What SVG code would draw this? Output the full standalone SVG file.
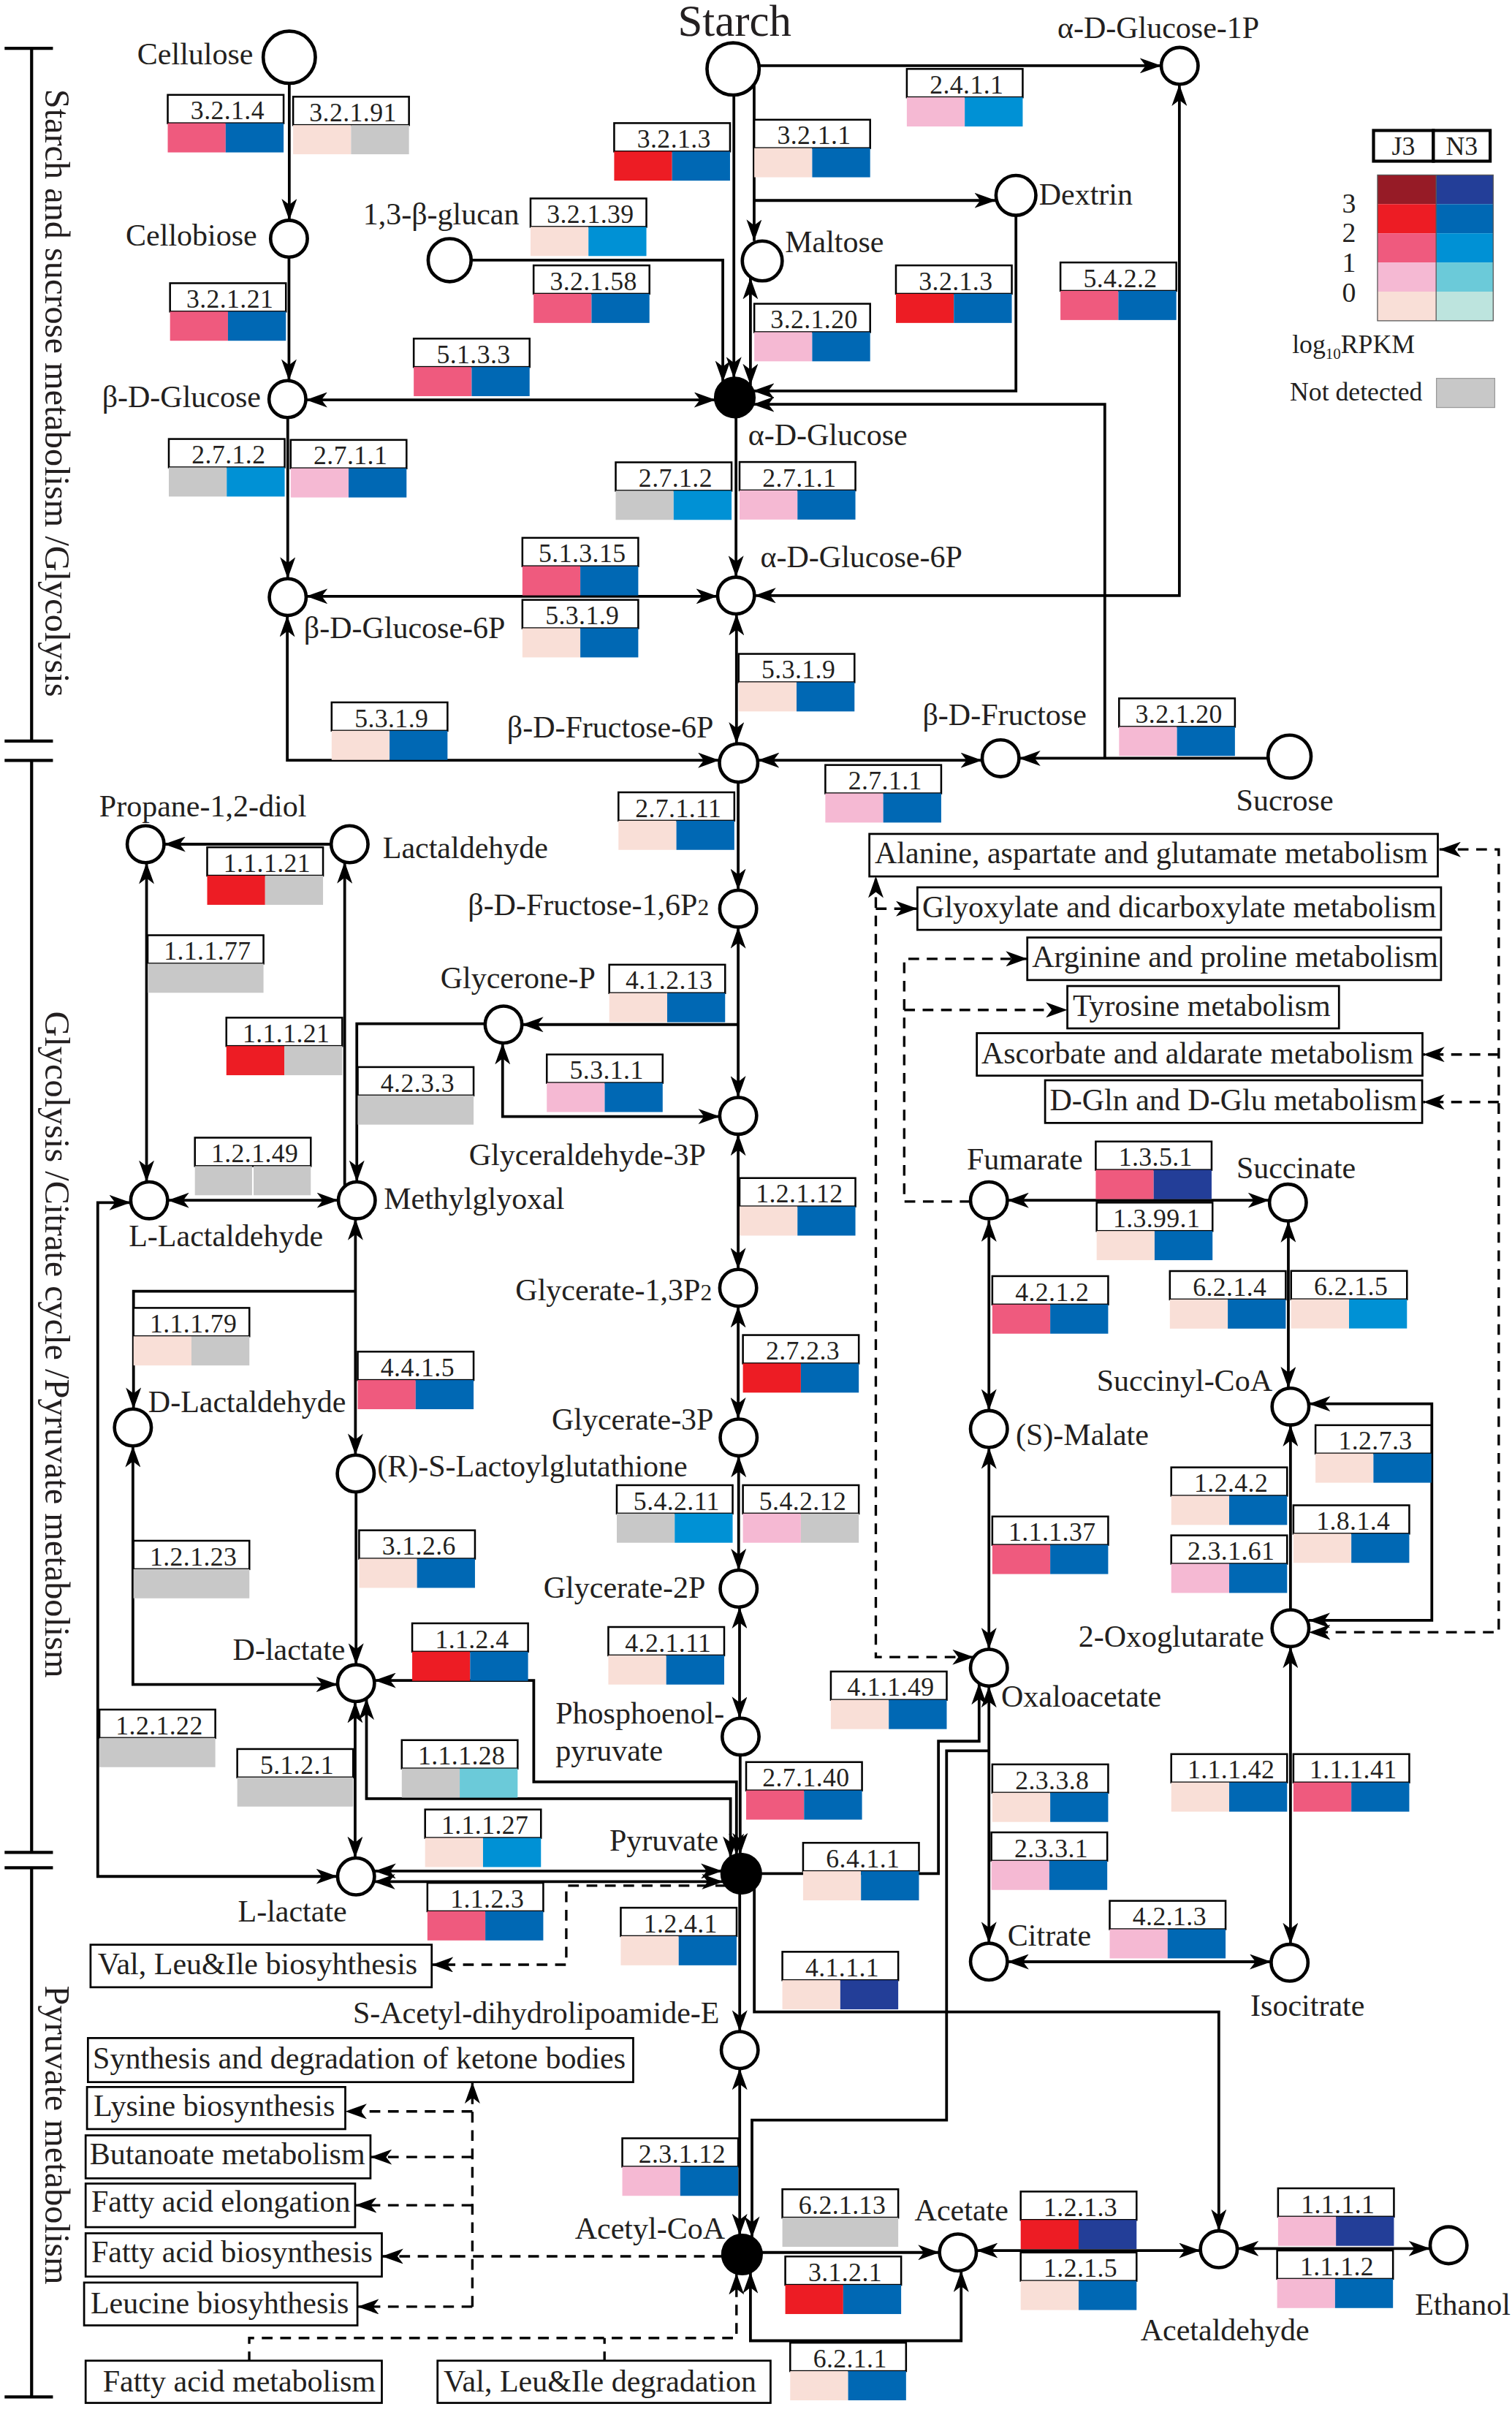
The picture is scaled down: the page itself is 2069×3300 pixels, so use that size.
<svg xmlns="http://www.w3.org/2000/svg" width="2069" height="3300" viewBox="0 0 2069 3300">
<style>
.t{font-family:"Liberation Serif","Times New Roman",serif;font-size:20px;fill:#231f20}
.et{font-family:"Liberation Serif","Times New Roman",serif;font-size:17px;letter-spacing:0.2px;fill:#231f20;text-anchor:middle}
.lg{font-family:"Liberation Serif","Times New Roman",serif;font-size:17px;fill:#231f20}
.n{fill:#fff;stroke:#000;stroke-width:2.2}
.nf{fill:#000;stroke:#000;stroke-width:2.2}
.c{fill:none;stroke:#000;stroke-width:1.8}
.d{fill:none;stroke:#000;stroke-width:1.6;stroke-dasharray:7 5}
.s{marker-start:url(#a)}
.e{marker-end:url(#a)}
.lb{fill:#fff;stroke:#000;stroke-width:1.2}
.pb{fill:#fff;stroke:#000;stroke-width:1.3}
.br{fill:none;stroke:#000;stroke-width:2}
.r0{fill:#f9dfd7}.r1{fill:#f5b9d3}.r2{fill:#ef5a7e}.r3{fill:#ed1c24}.r4{fill:#961b26}
.b0{fill:#bde4de}.b1{fill:#6bcad9}.b2{fill:#0091d5}.b3{fill:#0068b4}.b4{fill:#233e98}
.g{fill:#c8c8c8}
</style>
<defs>
<marker id="a" viewBox="0 0 14 10" refX="14" refY="5" markerWidth="14" markerHeight="10" markerUnits="userSpaceOnUse" orient="auto-start-reverse"><path d="M0,0 L14,5 L0,10 L3.8,5 Z" fill="#000"/></marker>
</defs>
<rect width="2069" height="3300" fill="#fff"/>
<g transform="scale(2.1)">
<g id="brackets">
<path class="br" d="M3,31.5 H34.5 M20.6,31.5 V482.8 M3,482.8 H34.5 M3,495.4 H34.5 M20.6,495.4 V1206.8 M3,1206.8 H34.5 M3,1216.8 H34.5 M20.6,1216.8 V1561.6 M3,1561.6 H34.5"/>
<text class="t" style="font-size:23px" text-anchor="middle" transform="translate(29.7,256) rotate(90)">Starch and sucrose metabolism /Glycolysis</text>
<text class="t" style="font-size:23px" text-anchor="middle" transform="translate(29.7,876) rotate(90)">Glycolysis /Citrate cycle /Pyruvate metabolism</text>
<text class="t" style="font-size:23px" text-anchor="middle" transform="translate(29.7,1391) rotate(90)">Pyruvate metabolism</text>
</g>
<g id="connectors">
<path class="c e" d="M188.5,54.5 V143.5"/>
<path class="c e" d="M188.3,167.5 V248"/>
<path class="c e" d="M187.5,272 V377"/>
<path class="c s e" d="M199.3,260.5 H466.3"/>
<path class="c e" d="M478.2,62 V246.5"/>
<path class="c e" d="M491.4,55 V157"/>
<path class="c e" d="M491.4,130.6 H649"/>
<path class="c e" d="M307,169.5 H471 V249"/>
<path class="c s e" d="M489,181 V251"/>
<path class="c e" d="M662,140.3 V254.7 H490.5"/>
<path class="c e" d="M719.9,494 V263.4 H490.5"/>
<path class="c e" d="M494.7,42.8 H756.7"/>
<path class="c s e" d="M491.6,388 H768.5 V55"/>
<path class="c e" d="M479.6,271.5 V376"/>
<path class="c s e" d="M199.5,388.5 H467.6"/>
<path class="c s e" d="M479.9,400 V484.5"/>
<path class="c s e" d="M187.2,401 V495.3 H468.8"/>
<path class="c s e" d="M493.8,495.3 H640"/>
<path class="c e" d="M826.3,494 H664"/>
<path class="c e" d="M481,509.5 V580"/>
<path class="c s e" d="M481,604 V715"/>
<path class="c e" d="M481,667.5 H340.1"/>
<path class="c s e" d="M327.5,679.5 V727.4 H469"/>
<path class="c s e" d="M481,739 V827"/>
<path class="c s e" d="M481,851 V924.5"/>
<path class="c s e" d="M481.3,948.5 V1023"/>
<path class="c s e" d="M481.9,1047 V1119.4"/>
<path class="c e" d="M482.3,1143.4 V1208.2"/>
<path class="c e" d="M215.8,550 H106.9"/>
<path class="c s e" d="M95.5,562 V770"/>
<path class="c e" d="M224.6,773 V561.6"/>
<path class="c e" d="M316.1,667 H232.5 V770"/>
<path class="c s e" d="M109.2,782 H220.5"/>
<path class="c s e" d="M231.6,794 V948"/>
<path class="c e" d="M231.6,841.2 H87 V918"/>
<path class="c s e" d="M86.6,942 V1097.4 H220"/>
<path class="c e" d="M232,972 V1084.6"/>
<path class="c s e" d="M244,1094.8 H347.8 V1160.9 H479.9 V1208.6"/>
<path class="c s e" d="M238.8,1106.5 V1171.8 H476 V1210.4"/>
<path class="c s e" d="M231.4,1108.6 V1210.5"/>
<path class="c s e" d="M220,1222.5 H63.7 V783.5 H85.2"/>
<path class="c s e" d="M244,1219 H470.7"/>
<path class="c s e" d="M243.5,1225.9 H471.3"/>
<path class="c e" d="M482,1233.2 V1323.6"/>
<path class="c s e" d="M482,1347.6 V1456.3"/>
<path class="c e" d="M491.5,1229.9 V1310.8 H794.2 V1453.4"/>
<path class="c e" d="M495.5,1220.7 H611.5 V1134.4 H638 V1096.6"/>
<path class="c e" d="M644.4,1140.7 H616.8 V1381.3 H490 V1458"/>
<path class="c e" d="M496,1467.5 H612.2"/>
<path class="c s e" d="M626.3,1479.3 V1525 H489 V1480.2"/>
<path class="c s e" d="M636.2,1466.2 H782.2"/>
<path class="c s e" d="M806.2,1464.9 H931.9"/>
<path class="c s e" d="M656.4,782 H827.2"/>
<path class="c s e" d="M644.4,795 V919"/>
<path class="c s e" d="M644.4,943 V1074.5"/>
<path class="c s e" d="M644.4,1098.5 V1266"/>
<path class="c s e" d="M656.4,1278.1 H828.3"/>
<path class="c s e" d="M840.9,1266.7 V1072.8"/>
<path class="c e" d="M840.9,1048.8 V928.4"/>
<path class="c s e" d="M839.5,795.5 V904.4"/>
<path class="c s e" d="M852.9,914.6 H933 V1055.7 H852.7"/>
<path class="d s e" d="M937.9,553.4 H976.6 V1063.4 H852.9"/>
<path class="d e" d="M976.6,687 H927.3"/>
<path class="d e" d="M976.6,718 H927.3"/>
<path class="d s e" d="M634.6,1079.6 H570.7 V571"/>
<path class="d e" d="M570.7,592 H597.8"/>
<path class="d e" d="M632.4,782.8 H589.2 V624.7 H669.4"/>
<path class="d e" d="M589.2,658 H695.5"/>
<path class="d e" d="M473.2,1228.5 H369 V1280 H281.3"/>
<path class="d e" d="M471.2,1470 H248.8"/>
<path class="d e" d="M307.8,1502.8 V1356.5"/>
<path class="d e" d="M307.8,1375.6 H225"/>
<path class="d e" d="M307.8,1405.3 H241.4"/>
<path class="d e" d="M307.8,1436.7 H231.4"/>
<path class="d e" d="M307.8,1502.8 H232.9"/>
<path class="d e" d="M162.4,1539 V1523.2 H479.9 V1481"/>
<path class="d" d="M393.9,1539 V1523.2"/>
</g>
<g id="n-starch"><circle class="n" cx="477.7" cy="44.9" r="17"/><text class="t" style="font-size:29px" x="478.7" y="23.5" text-anchor="middle">Starch</text></g>
<g id="n-cellulose"><circle class="n" cx="188.5" cy="37.3" r="17"/><text class="t" x="165" y="42" text-anchor="end">Cellulose</text></g>
<g id="n-aglc1p"><circle class="n" cx="768.7" cy="42.9" r="12"/><text class="t" x="689" y="25">α-D-Glucose-1P</text></g>
<g id="n-cellobiose"><circle class="n" cx="188.3" cy="155.5" r="12"/><text class="t" x="167.5" y="160" text-anchor="end">Cellobiose</text></g>
<g id="n-glucan"><circle class="n" cx="293" cy="169.5" r="14"/><text class="t" x="236.5" y="146">1,3-β-glucan</text></g>
<g id="n-maltose"><circle class="n" cx="496.7" cy="170" r="13"/><text class="t" x="511.5" y="164.5">Maltose</text></g>
<g id="n-dextrin"><circle class="n" cx="662" cy="127.3" r="13"/><text class="t" x="677" y="133.5">Dextrin</text></g>
<g id="n-aglc"><circle class="nf" cx="478.8" cy="259" r="12.5"/><text class="t" x="487.5" y="290">α-D-Glucose</text></g>
<g id="n-bglc"><circle class="n" cx="187.3" cy="260" r="12"/><text class="t" x="170" y="265" text-anchor="end">β-D-Glucose</text></g>
<g id="n-aglc6p"><circle class="n" cx="479.6" cy="388" r="12"/><text class="t" x="495.5" y="369.5">α-D-Glucose-6P</text></g>
<g id="n-bglc6p"><circle class="n" cx="187.5" cy="389" r="12"/><text class="t" x="198" y="415.5">β-D-Glucose-6P</text></g>
<g id="n-bfru6p"><circle class="n" cx="481.3" cy="497" r="12.5"/><text class="t" x="465" y="480.5" text-anchor="end">β-D-Fructose-6P</text></g>
<g id="n-bfru"><circle class="n" cx="652" cy="494" r="12"/><text class="t" x="708" y="472.5" text-anchor="end">β-D-Fructose</text></g>
<g id="n-sucrose"><circle class="n" cx="840.3" cy="492.9" r="14"/><text class="t" x="805.5" y="528">Sucrose</text></g>
<g id="n-propanediol"><circle class="n" cx="94.9" cy="550" r="12"/><text class="t" x="64.7" y="532">Propane-1,2-diol</text></g>
<g id="n-lactaldehyde"><circle class="n" cx="227.8" cy="550" r="12"/><text class="t" x="249.4" y="559">Lactaldehyde</text></g>
<g id="n-fbp"><circle class="n" cx="481" cy="592" r="12"/><text class="t" x="462" y="596" text-anchor="end">β-D-Fructose-1,6P<tspan style="font-size:15px">2</tspan></text></g>
<g id="n-glyceroneP"><circle class="n" cx="328.1" cy="667.5" r="12"/><text class="t" x="287" y="644">Glycerone-P</text></g>
<g id="n-g3p"><circle class="n" cx="481" cy="727" r="12"/><text class="t" x="460" y="759" text-anchor="end">Glyceraldehyde-3P</text></g>
<g id="n-llactald"><circle class="n" cx="97.2" cy="782" r="12"/><text class="t" x="83.9" y="811.8">L-Lactaldehyde</text></g>
<g id="n-methylglyoxal"><circle class="n" cx="232.5" cy="782" r="12"/><text class="t" x="250.1" y="787.8">Methylglyoxal</text></g>
<g id="n-g13p2"><circle class="n" cx="481" cy="839" r="12"/><text class="t" x="463.9" y="847" text-anchor="end">Glycerate-1,3P<tspan style="font-size:15px">2</tspan></text></g>
<g id="n-dlactald"><circle class="n" cx="86.6" cy="930" r="12"/><text class="t" x="96.6" y="920">D-Lactaldehyde</text></g>
<g id="n-lactoylglut"><circle class="n" cx="231.8" cy="960" r="12"/><text class="t" x="245.8" y="962">(R)-S-Lactoylglutathione</text></g>
<g id="n-g3pa"><circle class="n" cx="481.3" cy="936.5" r="12"/><text class="t" x="465" y="931.5" text-anchor="end">Glycerate-3P</text></g>
<g id="n-g2p"><circle class="n" cx="481.3" cy="1035" r="12"/><text class="t" x="459.7" y="1041" text-anchor="end">Glycerate-2P</text></g>
<g id="n-dlactate"><circle class="n" cx="232" cy="1096.6" r="12"/><text class="t" x="225" y="1081.4" text-anchor="end">D-lactate</text></g>
<g id="n-pep"><circle class="n" cx="482.6" cy="1131.4" r="12"/><text class="t" x="362" y="1123">Phosphoenol-</text><text class="t" x="362" y="1147">pyruvate</text></g>
<g id="n-pyruvate"><circle class="nf" cx="483" cy="1220.7" r="12.5"/><text class="t" x="468.2" y="1205.8" text-anchor="end">Pyruvate</text></g>
<g id="n-llactate"><circle class="n" cx="232" cy="1222.5" r="12"/><text class="t" x="155" y="1252">L-lactate</text></g>
<g id="n-sacetyl"><circle class="n" cx="482" cy="1335.6" r="12"/><text class="t" x="468.8" y="1318" text-anchor="end">S-Acetyl-dihydrolipoamide-E</text></g>
<g id="n-acetylcoa"><circle class="nf" cx="483.5" cy="1468.8" r="12.5"/><text class="t" x="472.4" y="1458.4" text-anchor="end">Acetyl-CoA</text></g>
<g id="n-acetate"><circle class="n" cx="624.2" cy="1467.5" r="12"/><text class="t" x="596" y="1446.6">Acetate</text></g>
<g id="n-acetaldehyde"><circle class="n" cx="794.2" cy="1465.4" r="12"/><text class="t" x="743.2" y="1525">Acetaldehyde</text></g>
<g id="n-ethanol"><circle class="n" cx="943.9" cy="1462.8" r="12"/><text class="t" x="922" y="1508">Ethanol</text></g>
<g id="n-fumarate"><circle class="n" cx="644.4" cy="782" r="12"/><text class="t" x="705.5" y="762" text-anchor="end">Fumarate</text></g>
<g id="n-succinate"><circle class="n" cx="839.2" cy="783.5" r="12"/><text class="t" x="805.7" y="767.6">Succinate</text></g>
<g id="n-succinylcoa"><circle class="n" cx="840.9" cy="916.4" r="12"/><text class="t" x="714.6" y="906">Succinyl-CoA</text></g>
<g id="n-malate"><circle class="n" cx="644.4" cy="931" r="12"/><text class="t" x="661.9" y="941.5">(S)-Malate</text></g>
<g id="n-oxoglutarate"><circle class="n" cx="840.9" cy="1060.8" r="12"/><text class="t" x="702.7" y="1072.7">2-Oxoglutarate</text></g>
<g id="n-oxaloacetate"><circle class="n" cx="644.4" cy="1086.5" r="12"/><text class="t" x="652.4" y="1111.8">Oxaloacetate</text></g>
<g id="n-citrate"><circle class="n" cx="644.4" cy="1278" r="12"/><text class="t" x="656.6" y="1267.7">Citrate</text></g>
<g id="n-isocitrate"><circle class="n" cx="840.3" cy="1278.7" r="12"/><text class="t" x="814.8" y="1313.4">Isocitrate</text></g>
<g id="p-ala"><rect class="pb" x="566.5" y="543.3" width="370.4" height="27.7"/><text class="t" x="570" y="562.2">Alanine, aspartate and glutamate metabolism</text></g>
<g id="p-glyox"><rect class="pb" x="597.8" y="578.1" width="341.2" height="27.7"/><text class="t" x="601" y="597.5">Glyoxylate and dicarboxylate metabolism</text></g>
<g id="p-arg"><rect class="pb" x="669.4" y="610.8" width="269.6" height="27.7"/><text class="t" x="672.5" y="630.2">Arginine and proline metabolism</text></g>
<g id="p-tyr"><rect class="pb" x="695.5" y="642.4" width="177" height="27.6"/><text class="t" x="699" y="661.8">Tyrosine metabolism</text></g>
<g id="p-asc"><rect class="pb" x="636.5" y="673.1" width="290.4" height="27.7"/><text class="t" x="639.5" y="692.8">Ascorbate and aldarate metabolism</text></g>
<g id="p-dgln"><rect class="pb" x="681" y="703.8" width="245.7" height="27.8"/><text class="t" x="684" y="723.5">D-Gln and D-Glu metabolism</text></g>
<g id="p-valbio"><rect class="pb" x="59" y="1267" width="222.3" height="27.7"/><text class="t" x="63.7" y="1286.3">Val, Leu&amp;Ile biosyhthesis</text></g>
<g id="p-ketone"><rect class="pb" x="57.3" y="1327.8" width="355.3" height="28.7"/><text class="t" x="60.5" y="1347.4">Synthesis and degradation of ketone bodies</text></g>
<g id="p-lys"><rect class="pb" x="56.7" y="1359.7" width="168.3" height="27.4"/><text class="t" x="61" y="1378.7">Lysine biosynthesis</text></g>
<g id="p-but"><rect class="pb" x="55.8" y="1391.2" width="185.6" height="28"/><text class="t" x="58.5" y="1410">Butanoate metabolism</text></g>
<g id="p-faelong"><rect class="pb" x="55.8" y="1422.6" width="175.6" height="28.4"/><text class="t" x="59.5" y="1440.9">Fatty acid elongation</text></g>
<g id="p-fabio"><rect class="pb" x="55.8" y="1455" width="193" height="28.2"/><text class="t" x="59.5" y="1474">Fatty acid biosynthesis</text></g>
<g id="p-leu"><rect class="pb" x="54.8" y="1487.1" width="178.1" height="27.9"/><text class="t" x="59" y="1507.2">Leucine biosyhthesis</text></g>
<g id="p-famet"><rect class="pb" x="55.8" y="1538" width="193" height="27.5"/><text class="t" x="67" y="1558">Fatty acid metabolism</text></g>
<g id="p-valdeg"><rect class="pb" x="285.1" y="1538" width="217" height="27.5"/><text class="t" x="289" y="1558">Val, Leu&amp;Ile degradation</text></g>
<g id="enzymes">
<g transform="translate(109.3,61.8)"><rect class="lb" width="75.5" height="18.5"/><rect class="r2" y="18.5" width="37.75" height="19"/><rect class="b3" x="37.75" y="18.5" width="37.75" height="19"/><text class="et" x="39" y="16">3.2.1.4</text></g>
<g transform="translate(191,63)"><rect class="lb" width="75.5" height="18.5"/><rect class="r0" y="18.5" width="37.75" height="19"/><rect class="g" x="37.75" y="18.5" width="37.75" height="19"/><text class="et" x="39" y="16">3.2.1.91</text></g>
<g transform="translate(110.8,184.5)"><rect class="lb" width="75.5" height="18.5"/><rect class="r2" y="18.5" width="37.75" height="19"/><rect class="b3" x="37.75" y="18.5" width="37.75" height="19"/><text class="et" x="39" y="16">3.2.1.21</text></g>
<g transform="translate(269.6,220.6)"><rect class="lb" width="75.5" height="18.5"/><rect class="r2" y="18.5" width="37.75" height="19"/><rect class="b3" x="37.75" y="18.5" width="37.75" height="19"/><text class="et" x="39" y="16">5.1.3.3</text></g>
<g transform="translate(110,286)"><rect class="lb" width="75.5" height="18.5"/><rect class="g" y="18.5" width="37.75" height="19"/><rect class="b2" x="37.75" y="18.5" width="37.75" height="19"/><text class="et" x="39" y="16">2.7.1.2</text></g>
<g transform="translate(189.4,286.6)"><rect class="lb" width="75.5" height="18.5"/><rect class="r1" y="18.5" width="37.75" height="19"/><rect class="b3" x="37.75" y="18.5" width="37.75" height="19"/><text class="et" x="39" y="16">2.7.1.1</text></g>
<g transform="translate(590.9,44.9)"><rect class="lb" width="75.5" height="18.5"/><rect class="r1" y="18.5" width="37.75" height="19"/><rect class="b2" x="37.75" y="18.5" width="37.75" height="19"/><text class="et" x="39" y="16">2.4.1.1</text></g>
<g transform="translate(400.2,80.2)"><rect class="lb" width="75.5" height="18.5"/><rect class="r3" y="18.5" width="37.75" height="19"/><rect class="b3" x="37.75" y="18.5" width="37.75" height="19"/><text class="et" x="39" y="16">3.2.1.3</text></g>
<g transform="translate(491.5,78)"><rect class="lb" width="75.5" height="18.5"/><rect class="r0" y="18.5" width="37.75" height="19"/><rect class="b3" x="37.75" y="18.5" width="37.75" height="19"/><text class="et" x="39" y="16">3.2.1.1</text></g>
<g transform="translate(345.7,129.3)"><rect class="lb" width="75.5" height="18.5"/><rect class="r0" y="18.5" width="37.75" height="19"/><rect class="b2" x="37.75" y="18.5" width="37.75" height="19"/><text class="et" x="39" y="16">3.2.1.39</text></g>
<g transform="translate(347.7,172.9)"><rect class="lb" width="75.5" height="18.5"/><rect class="r2" y="18.5" width="37.75" height="19"/><rect class="b3" x="37.75" y="18.5" width="37.75" height="19"/><text class="et" x="39" y="16">3.2.1.58</text></g>
<g transform="translate(491.5,197.9)"><rect class="lb" width="75.5" height="18.5"/><rect class="r1" y="18.5" width="37.75" height="19"/><rect class="b3" x="37.75" y="18.5" width="37.75" height="19"/><text class="et" x="39" y="16">3.2.1.20</text></g>
<g transform="translate(583.8,172.9)"><rect class="lb" width="75.5" height="18.5"/><rect class="r3" y="18.5" width="37.75" height="19"/><rect class="b3" x="37.75" y="18.5" width="37.75" height="19"/><text class="et" x="39" y="16">3.2.1.3</text></g>
<g transform="translate(691,171)"><rect class="lb" width="75.5" height="18.5"/><rect class="r2" y="18.5" width="37.75" height="19"/><rect class="b3" x="37.75" y="18.5" width="37.75" height="19"/><text class="et" x="39" y="16">5.4.2.2</text></g>
<g transform="translate(401.2,301.2)"><rect class="lb" width="75.5" height="18.5"/><rect class="g" y="18.5" width="37.75" height="19"/><rect class="b2" x="37.75" y="18.5" width="37.75" height="19"/><text class="et" x="39" y="16">2.7.1.2</text></g>
<g transform="translate(481.9,301)"><rect class="lb" width="75.5" height="18.5"/><rect class="r1" y="18.5" width="37.75" height="19"/><rect class="b3" x="37.75" y="18.5" width="37.75" height="19"/><text class="et" x="39" y="16">2.7.1.1</text></g>
<g transform="translate(340.4,350.4)"><rect class="lb" width="75.5" height="18.5"/><rect class="r2" y="18.5" width="37.75" height="19"/><rect class="b3" x="37.75" y="18.5" width="37.75" height="19"/><text class="et" x="39" y="16">5.1.3.15</text></g>
<g transform="translate(340.4,390.8)"><rect class="lb" width="75.5" height="18.5"/><rect class="r0" y="18.5" width="37.75" height="19"/><rect class="b3" x="37.75" y="18.5" width="37.75" height="19"/><text class="et" x="39" y="16">5.3.1.9</text></g>
<g transform="translate(481.3,426)"><rect class="lb" width="75.5" height="18.5"/><rect class="r0" y="18.5" width="37.75" height="19"/><rect class="b3" x="37.75" y="18.5" width="37.75" height="19"/><text class="et" x="39" y="16">5.3.1.9</text></g>
<g transform="translate(216.1,457.6)"><rect class="lb" width="75.5" height="18.5"/><rect class="r0" y="18.5" width="37.75" height="19"/><rect class="b3" x="37.75" y="18.5" width="37.75" height="19"/><text class="et" x="39" y="16">5.3.1.9</text></g>
<g transform="translate(729.2,455)"><rect class="lb" width="75.5" height="18.5"/><rect class="r1" y="18.5" width="37.75" height="19"/><rect class="b3" x="37.75" y="18.5" width="37.75" height="19"/><text class="et" x="39" y="16">3.2.1.20</text></g>
<g transform="translate(537.8,498.4)"><rect class="lb" width="75.5" height="18.5"/><rect class="r1" y="18.5" width="37.75" height="19"/><rect class="b3" x="37.75" y="18.5" width="37.75" height="19"/><text class="et" x="39" y="16">2.7.1.1</text></g>
<g transform="translate(403,516.2)"><rect class="lb" width="75.5" height="18.5"/><rect class="r0" y="18.5" width="37.75" height="19"/><rect class="b3" x="37.75" y="18.5" width="37.75" height="19"/><text class="et" x="39" y="16">2.7.1.11</text></g>
<g transform="translate(135,552)"><rect class="lb" width="75.5" height="18.5"/><rect class="r3" y="18.5" width="37.75" height="19"/><rect class="g" x="37.75" y="18.5" width="37.75" height="19"/><text class="et" x="39" y="16">1.1.1.21</text></g>
<g transform="translate(96.2,609.3)"><rect class="lb" width="75.5" height="18.5"/><rect class="g" y="18.5" width="75.5" height="19"/><text class="et" x="39" y="16">1.1.1.77</text></g>
<g transform="translate(147.5,663)"><rect class="lb" width="75.5" height="18.5"/><rect class="r3" y="18.5" width="37.75" height="19"/><rect class="g" x="37.75" y="18.5" width="37.75" height="19"/><text class="et" x="39" y="16">1.1.1.21</text></g>
<g transform="translate(397,628.5)"><rect class="lb" width="75.5" height="18.5"/><rect class="r0" y="18.5" width="37.75" height="19"/><rect class="b3" x="37.75" y="18.5" width="37.75" height="19"/><text class="et" x="39" y="16">4.1.2.13</text></g>
<g transform="translate(233.1,695.2)"><rect class="lb" width="75.5" height="18.5"/><rect class="g" y="18.5" width="75.5" height="19"/><text class="et" x="39" y="16">4.2.3.3</text></g>
<g transform="translate(356.3,687)"><rect class="lb" width="75.5" height="18.5"/><rect class="r1" y="18.5" width="37.75" height="19"/><rect class="b3" x="37.75" y="18.5" width="37.75" height="19"/><text class="et" x="39" y="16">5.3.1.1</text></g>
<g transform="translate(127,741.2)"><rect class="lb" width="75.5" height="18.5"/><rect class="g" y="18.5" width="37.25" height="19"/><rect class="g" x="38.25" y="18.5" width="37.25" height="19"/><text class="et" x="39" y="16">1.2.1.49</text></g>
<g transform="translate(481.9,767.5)"><rect class="lb" width="75.5" height="18.5"/><rect class="r0" y="18.5" width="37.75" height="19"/><rect class="b3" x="37.75" y="18.5" width="37.75" height="19"/><text class="et" x="39" y="16">1.2.1.12</text></g>
<g transform="translate(714,743.7)"><rect class="lb" width="75.5" height="18.5"/><rect class="r2" y="18.5" width="37.75" height="19"/><rect class="b4" x="37.75" y="18.5" width="37.75" height="19"/><text class="et" x="39" y="16">1.3.5.1</text></g>
<g transform="translate(714.6,783.5)"><rect class="lb" width="75.5" height="18.5"/><rect class="r0" y="18.5" width="37.75" height="19"/><rect class="b3" x="37.75" y="18.5" width="37.75" height="19"/><text class="et" x="39" y="16">1.3.99.1</text></g>
<g transform="translate(646.6,831.4)"><rect class="lb" width="75.5" height="18.5"/><rect class="r2" y="18.5" width="37.75" height="19"/><rect class="b3" x="37.75" y="18.5" width="37.75" height="19"/><text class="et" x="39" y="16">4.2.1.2</text></g>
<g transform="translate(762.3,828.1)"><rect class="lb" width="75.5" height="18.5"/><rect class="r0" y="18.5" width="37.75" height="19"/><rect class="b3" x="37.75" y="18.5" width="37.75" height="19"/><text class="et" x="39" y="16">6.2.1.4</text></g>
<g transform="translate(841.3,828)"><rect class="lb" width="75.5" height="18.5"/><rect class="r0" y="18.5" width="37.75" height="19"/><rect class="b2" x="37.75" y="18.5" width="37.75" height="19"/><text class="et" x="39" y="16">6.2.1.5</text></g>
<g transform="translate(87,852.1)"><rect class="lb" width="75.5" height="18.5"/><rect class="r0" y="18.5" width="37.75" height="19"/><rect class="g" x="37.75" y="18.5" width="37.75" height="19"/><text class="et" x="39" y="16">1.1.1.79</text></g>
<g transform="translate(233.1,880.6)"><rect class="lb" width="75.5" height="18.5"/><rect class="r2" y="18.5" width="37.75" height="19"/><rect class="b3" x="37.75" y="18.5" width="37.75" height="19"/><text class="et" x="39" y="16">4.4.1.5</text></g>
<g transform="translate(484.1,869.8)"><rect class="lb" width="75.5" height="18.5"/><rect class="r3" y="18.5" width="37.75" height="19"/><rect class="b3" x="37.75" y="18.5" width="37.75" height="19"/><text class="et" x="39" y="16">2.7.2.3</text></g>
<g transform="translate(857.2,928.5)"><rect class="lb" width="75.5" height="18.5"/><rect class="r0" y="18.5" width="37.75" height="19"/><rect class="b3" x="37.75" y="18.5" width="37.75" height="19"/><text class="et" x="39" y="16">1.2.7.3</text></g>
<g transform="translate(763.2,956)"><rect class="lb" width="75.5" height="18.5"/><rect class="r0" y="18.5" width="37.75" height="19"/><rect class="b3" x="37.75" y="18.5" width="37.75" height="19"/><text class="et" x="39" y="16">1.2.4.2</text></g>
<g transform="translate(842.8,980.7)"><rect class="lb" width="75.5" height="18.5"/><rect class="r0" y="18.5" width="37.75" height="19"/><rect class="b3" x="37.75" y="18.5" width="37.75" height="19"/><text class="et" x="39" y="16">1.8.1.4</text></g>
<g transform="translate(763.2,1000.3)"><rect class="lb" width="75.5" height="18.5"/><rect class="r1" y="18.5" width="37.75" height="19"/><rect class="b3" x="37.75" y="18.5" width="37.75" height="19"/><text class="et" x="39" y="16">2.3.1.61</text></g>
<g transform="translate(646.6,988)"><rect class="lb" width="75.5" height="18.5"/><rect class="r2" y="18.5" width="37.75" height="19"/><rect class="b3" x="37.75" y="18.5" width="37.75" height="19"/><text class="et" x="39" y="16">1.1.1.37</text></g>
<g transform="translate(401.9,967.6)"><rect class="lb" width="75.5" height="18.5"/><rect class="g" y="18.5" width="37.75" height="19"/><rect class="b2" x="37.75" y="18.5" width="37.75" height="19"/><text class="et" x="39" y="16">5.4.2.11</text></g>
<g transform="translate(484.1,967.6)"><rect class="lb" width="75.5" height="18.5"/><rect class="r1" y="18.5" width="37.75" height="19"/><rect class="g" x="37.75" y="18.5" width="37.75" height="19"/><text class="et" x="39" y="16">5.4.2.12</text></g>
<g transform="translate(87,1003.8)"><rect class="lb" width="75.5" height="18.5"/><rect class="g" y="18.5" width="75.5" height="19"/><text class="et" x="39" y="16">1.2.1.23</text></g>
<g transform="translate(234,997)"><rect class="lb" width="75.5" height="18.5"/><rect class="r0" y="18.5" width="37.75" height="19"/><rect class="b3" x="37.75" y="18.5" width="37.75" height="19"/><text class="et" x="39" y="16">3.1.2.6</text></g>
<g transform="translate(396.4,1060)"><rect class="lb" width="75.5" height="18.5"/><rect class="r0" y="18.5" width="37.75" height="19"/><rect class="b3" x="37.75" y="18.5" width="37.75" height="19"/><text class="et" x="39" y="16">4.2.1.11</text></g>
<g transform="translate(268.6,1057.6)"><rect class="lb" width="75.5" height="18.5"/><rect class="r3" y="18.5" width="37.75" height="19"/><rect class="b3" x="37.75" y="18.5" width="37.75" height="19"/><text class="et" x="39" y="16">1.1.2.4</text></g>
<g transform="translate(541.4,1089)"><rect class="lb" width="75.5" height="18.5"/><rect class="r0" y="18.5" width="37.75" height="19"/><rect class="b3" x="37.75" y="18.5" width="37.75" height="19"/><text class="et" x="39" y="16">4.1.1.49</text></g>
<g transform="translate(64.8,1113.8)"><rect class="lb" width="75.5" height="18.5"/><rect class="g" y="18.5" width="75.5" height="19"/><text class="et" x="39" y="16">1.2.1.22</text></g>
<g transform="translate(154.6,1139.5)"><rect class="lb" width="75.5" height="18.5"/><rect class="g" y="18.5" width="75.5" height="19"/><text class="et" x="39" y="16">5.1.2.1</text></g>
<g transform="translate(261.8,1133.7)"><rect class="lb" width="75.5" height="18.5"/><rect class="g" y="18.5" width="37.75" height="19"/><rect class="b1" x="37.75" y="18.5" width="37.75" height="19"/><text class="et" x="39" y="16">1.1.1.28</text></g>
<g transform="translate(486.2,1148)"><rect class="lb" width="75.5" height="18.5"/><rect class="r2" y="18.5" width="37.75" height="19"/><rect class="b3" x="37.75" y="18.5" width="37.75" height="19"/><text class="et" x="39" y="16">2.7.1.40</text></g>
<g transform="translate(763.2,1142.8)"><rect class="lb" width="75.5" height="18.5"/><rect class="r0" y="18.5" width="37.75" height="19"/><rect class="b3" x="37.75" y="18.5" width="37.75" height="19"/><text class="et" x="39" y="16">1.1.1.42</text></g>
<g transform="translate(842.8,1142.8)"><rect class="lb" width="75.5" height="18.5"/><rect class="r2" y="18.5" width="37.75" height="19"/><rect class="b3" x="37.75" y="18.5" width="37.75" height="19"/><text class="et" x="39" y="16">1.1.1.41</text></g>
<g transform="translate(646.6,1149.5)"><rect class="lb" width="75.5" height="18.5"/><rect class="r0" y="18.5" width="37.75" height="19"/><rect class="b3" x="37.75" y="18.5" width="37.75" height="19"/><text class="et" x="39" y="16">2.3.3.8</text></g>
<g transform="translate(277,1178.9)"><rect class="lb" width="75.5" height="18.5"/><rect class="r0" y="18.5" width="37.75" height="19"/><rect class="b2" x="37.75" y="18.5" width="37.75" height="19"/><text class="et" x="39" y="16">1.1.1.27</text></g>
<g transform="translate(523.3,1200.6)"><rect class="lb" width="75.5" height="18.5"/><rect class="r0" y="18.5" width="37.75" height="19"/><rect class="b3" x="37.75" y="18.5" width="37.75" height="19"/><text class="et" x="39" y="16">6.4.1.1</text></g>
<g transform="translate(646,1193.8)"><rect class="lb" width="75.5" height="18.5"/><rect class="r1" y="18.5" width="37.75" height="19"/><rect class="b3" x="37.75" y="18.5" width="37.75" height="19"/><text class="et" x="39" y="16">2.3.3.1</text></g>
<g transform="translate(278.5,1226.7)"><rect class="lb" width="75.5" height="18.5"/><rect class="r2" y="18.5" width="37.75" height="19"/><rect class="b3" x="37.75" y="18.5" width="37.75" height="19"/><text class="et" x="39" y="16">1.1.2.3</text></g>
<g transform="translate(404.5,1242.9)"><rect class="lb" width="75.5" height="18.5"/><rect class="r0" y="18.5" width="37.75" height="19"/><rect class="b3" x="37.75" y="18.5" width="37.75" height="19"/><text class="et" x="39" y="16">1.2.4.1</text></g>
<g transform="translate(723.1,1238.4)"><rect class="lb" width="75.5" height="18.5"/><rect class="r1" y="18.5" width="37.75" height="19"/><rect class="b3" x="37.75" y="18.5" width="37.75" height="19"/><text class="et" x="39" y="16">4.2.1.3</text></g>
<g transform="translate(509.8,1271.6)"><rect class="lb" width="75.5" height="18.5"/><rect class="r0" y="18.5" width="37.75" height="19"/><rect class="b4" x="37.75" y="18.5" width="37.75" height="19"/><text class="et" x="39" y="16">4.1.1.1</text></g>
<g transform="translate(405.5,1393.1)"><rect class="lb" width="75.5" height="18.5"/><rect class="r1" y="18.5" width="37.75" height="19"/><rect class="b3" x="37.75" y="18.5" width="37.75" height="19"/><text class="et" x="39" y="16">2.3.1.12</text></g>
<g transform="translate(509.8,1426.3)"><rect class="lb" width="75.5" height="18.5"/><rect class="g" y="18.5" width="75.5" height="19"/><text class="et" x="39" y="16">6.2.1.13</text></g>
<g transform="translate(511.7,1470.1)"><rect class="lb" width="75.5" height="18.5"/><rect class="r3" y="18.5" width="37.75" height="19"/><rect class="b3" x="37.75" y="18.5" width="37.75" height="19"/><text class="et" x="39" y="16">3.1.2.1</text></g>
<g transform="translate(665.1,1427.8)"><rect class="lb" width="75.5" height="18.5"/><rect class="r3" y="18.5" width="37.75" height="19"/><rect class="b4" x="37.75" y="18.5" width="37.75" height="19"/><text class="et" x="39" y="16">1.2.1.3</text></g>
<g transform="translate(665.1,1467.5)"><rect class="lb" width="75.5" height="18.5"/><rect class="r0" y="18.5" width="37.75" height="19"/><rect class="b3" x="37.75" y="18.5" width="37.75" height="19"/><text class="et" x="39" y="16">1.2.1.5</text></g>
<g transform="translate(832.8,1425.7)"><rect class="lb" width="75.5" height="18.5"/><rect class="r1" y="18.5" width="37.75" height="19"/><rect class="b4" x="37.75" y="18.5" width="37.75" height="19"/><text class="et" x="39" y="16">1.1.1.1</text></g>
<g transform="translate(832.2,1466.2)"><rect class="lb" width="75.5" height="18.5"/><rect class="r1" y="18.5" width="37.75" height="19"/><rect class="b3" x="37.75" y="18.5" width="37.75" height="19"/><text class="et" x="39" y="16">1.1.1.2</text></g>
<g transform="translate(514.9,1526.3)"><rect class="lb" width="75.5" height="18.5"/><rect class="r0" y="18.5" width="37.75" height="19"/><rect class="b3" x="37.75" y="18.5" width="37.75" height="19"/><text class="et" x="39" y="16">6.2.1.1</text></g>
</g>
<g id="legend">
<rect x="895" y="85" width="39" height="20" fill="#fff" stroke="#000" stroke-width="2"/>
<rect x="934" y="85" width="37" height="20" fill="#fff" stroke="#000" stroke-width="2"/>
<text class="lg" x="914.5" y="100.8" text-anchor="middle">J3</text>
<text class="lg" x="952.5" y="100.8" text-anchor="middle">N3</text>
<rect class="r4" x="897.6" y="114" width="38.2" height="19"/><rect class="b4" x="935.8" y="114" width="37.2" height="19"/>
<rect class="r3" x="897.6" y="133" width="38.2" height="19"/><rect class="b3" x="935.8" y="133" width="37.2" height="19"/>
<rect class="r2" x="897.6" y="152" width="38.2" height="19"/><rect class="b2" x="935.8" y="152" width="37.2" height="19"/>
<rect class="r1" x="897.6" y="171" width="38.2" height="19"/><rect class="b1" x="935.8" y="171" width="37.2" height="19"/>
<rect class="r0" x="897.6" y="190" width="38.2" height="19"/><rect class="b0" x="935.8" y="190" width="37.2" height="19"/>
<path d="M897.6,114 H973 V209 H897.6 Z M935.8,114 V209" fill="none" stroke="#555" stroke-width="0.6"/>
<text class="t" style="font-size:18px" x="879" y="138.5" text-anchor="middle">3</text>
<text class="t" style="font-size:18px" x="879" y="157.5" text-anchor="middle">2</text>
<text class="t" style="font-size:18px" x="879" y="177" text-anchor="middle">1</text>
<text class="t" style="font-size:18px" x="879" y="196.5" text-anchor="middle">0</text>
<text class="lg" x="842" y="230">log<tspan style="font-size:10px" dy="4">10</tspan><tspan dy="-4">RPKM</tspan></text>
<text class="lg" x="840.5" y="261">Not detected</text>
<rect class="g" x="936" y="246.5" width="38" height="19" stroke="#999" stroke-width="0.6"/>
</g>
</g>
</svg>
